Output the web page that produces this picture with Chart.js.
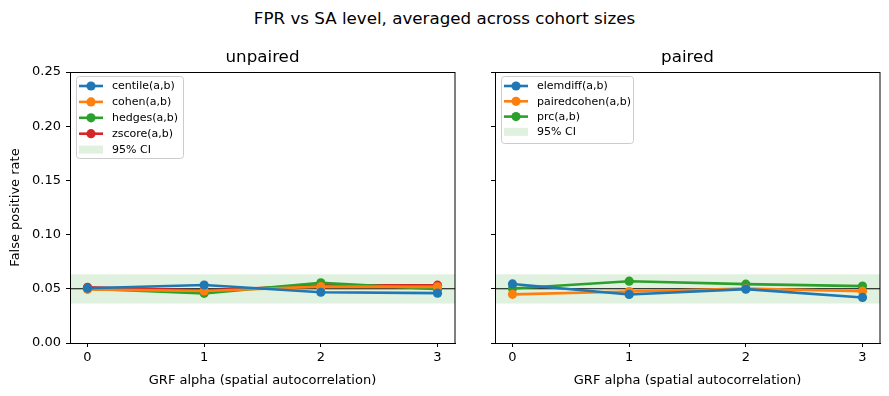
<!DOCTYPE html>
<html>
<head>
<meta charset="utf-8">
<script src="https://cdn.jsdelivr.net/npm/chart.js@4/dist/chart.umd.min.js"></script>
<style>
  html, body { margin: 0; padding: 0; background: #fff; }
  #wrap { position: relative; width: 889px; height: 396px; overflow: hidden; font-family: "DejaVu Sans", sans-serif; }
  #suptitle { position: absolute; left: 0; width: 889px; top: 8px; text-align: center; font-size: 16.7px; color: #000; line-height: 20px; }
  .cv { position: absolute; top: 0; }
</style>
</head>
<body>
<div id="wrap">
  <div id="suptitle">FPR vs SA level, averaged across cohort sizes</div>
  <canvas id="c1" class="cv" style="left:0px" width="460" height="396"></canvas>
  <canvas id="c2" class="cv" style="left:460px" width="429" height="396"></canvas>
</div>
<script>
// ---- data ----
const alphaLevels = [0, 1, 2, 3];
const yTicks = [0.00, 0.05, 0.10, 0.15, 0.20, 0.25];
const nominalFPR = 0.05;
const ciLow = 0.0365;
const ciHigh = 0.0635;

const unpairedNames = ["centile(a,b)", "cohen(a,b)", "hedges(a,b)", "zscore(a,b)"];
const centile = [0.0505, 0.0535, 0.0468, 0.0460];
const cohen   = [0.0495, 0.0480, 0.0520, 0.0518];
const hedges  = [0.0500, 0.0458, 0.0556, 0.0497];
const zscore  = [0.0514, 0.0484, 0.0532, 0.0533];

const pairedNames = ["elemdiff(a,b)", "pairedcohen(a,b)", "prc(a,b)"];
const elemdiff    = [0.0545, 0.0448, 0.0497, 0.0420];
const pairedcohen = [0.0449, 0.0475, 0.0502, 0.0478];
const prc         = [0.0503, 0.0570, 0.0543, 0.0525];

const colors = ["#1f77b4", "#ff7f0e", "#2ca02c", "#d62728"];
const ciLabel = "95% CI";
const xMin = -0.15, xMax = 3.15;

const FONT = "DejaVu Sans";

function seriesDataset(label, values, color) {
  return {
    type: 'line', label: label,
    data: alphaLevels.map((a, i) => ({x: a, y: values[i]})),
    borderColor: color, backgroundColor: color,
    borderWidth: 2.6, pointRadius: 4.6, pointHoverRadius: 4.6,
    pointBorderWidth: 0, fill: false, tension: 0, order: 1
  };
}

function bandDatasets() {
  return [
    { type: 'line', label: '_ciLow', data: [{x: xMin, y: ciLow}, {x: xMax, y: ciLow}],
      borderWidth: 0, pointRadius: 0, borderColor: 'rgba(0,0,0,0)', fill: false, order: 10 },
    { type: 'line', label: '_ciHigh', data: [{x: xMin, y: ciHigh}, {x: xMax, y: ciHigh}],
      borderWidth: 0, pointRadius: 0, borderColor: 'rgba(0,0,0,0)',
      backgroundColor: 'rgba(44,160,44,0.15)', fill: '-1', order: 10 },
    { type: 'line', label: '_nominal', data: [{x: xMin, y: nominalFPR}, {x: xMax, y: nominalFPR}],
      borderWidth: 1.1, pointRadius: 0, borderColor: '#000', fill: false, order: 5 }
  ];
}

// frame + title + custom legend plugin
const framePlugin = {
  id: 'frame',
  afterDatasetsDraw(chart, args, opts) {
    const ctx = chart.ctx, a = chart.chartArea;
    ctx.save();
    ctx.strokeStyle = '#000'; ctx.lineWidth = 1;
    ctx.strokeRect(Math.round(a.left) + 0.5, Math.round(a.top) + 0.5,
                   Math.round(a.right - a.left) - 1 + 0.5, Math.round(a.bottom - a.top));
    // axes title, centred on the plot area
    ctx.fillStyle = '#000';
    ctx.font = '16.7px "' + FONT + '"';
    ctx.textAlign = 'center';
    ctx.textBaseline = 'middle';
    ctx.fillText(opts.title, (a.left + a.right) / 2, a.top - 14);
    ctx.restore();

    // legend
    const items = opts.items;
    const x0 = a.left + 6, y0 = a.top + 4;
    const rowH = opts.rowH;
    const w = opts.width, h = opts.height;
    ctx.save();
    ctx.fillStyle = 'rgba(255,255,255,0.8)';
    ctx.strokeStyle = 'rgba(204,204,204,1)';
    ctx.lineWidth = 1;
    const r = 3;
    ctx.beginPath();
    ctx.moveTo(x0 + r + 0.5, y0 + 0.5);
    ctx.arcTo(x0 + w + 0.5, y0 + 0.5, x0 + w + 0.5, y0 + h + 0.5, r);
    ctx.arcTo(x0 + w + 0.5, y0 + h + 0.5, x0 + 0.5, y0 + h + 0.5, r);
    ctx.arcTo(x0 + 0.5, y0 + h + 0.5, x0 + 0.5, y0 + 0.5, r);
    ctx.arcTo(x0 + 0.5, y0 + 0.5, x0 + w + 0.5, y0 + 0.5, r);
    ctx.closePath();
    ctx.fill(); ctx.stroke();
    ctx.font = '11px "' + FONT + '"';
    ctx.textBaseline = 'middle';
    ctx.textAlign = 'left';
    items.forEach((it, i) => {
      const cy = y0 + 10 + i * rowH;
      const hx0 = x0 + 3, hx1 = x0 + 27;
      if (it.band) {
        ctx.fillStyle = 'rgba(44,160,44,0.15)';
        ctx.fillRect(hx0, cy - 4, hx1 - hx0, 8);
      } else {
        ctx.strokeStyle = it.color; ctx.lineWidth = 2.6;
        ctx.beginPath(); ctx.moveTo(hx0, cy); ctx.lineTo(hx1, cy); ctx.stroke();
        ctx.fillStyle = it.color;
        ctx.beginPath(); ctx.arc((hx0 + hx1) / 2, cy, 4.6, 0, Math.PI * 2); ctx.fill();
      }
      ctx.fillStyle = '#000';
      ctx.fillText(it.label, x0 + 36, cy + 0.5);
    });
    ctx.restore();
  }
};

function makeChart(id, title, names, seriesArr, showY, yAxisWidth, padRight, legendW, legendH, rowH) {
  const datasets = bandDatasets().concat(names.map((n, i) => seriesDataset(n, seriesArr[i], colors[i])));
  const items = names.map((n, i) => ({label: n, color: colors[i]})).concat([{label: ciLabel, band: true}]);
  return new Chart(document.getElementById(id), {
    type: 'line',
    data: { datasets },
    options: {
      responsive: false, animation: false, devicePixelRatio: 1,
      layout: { padding: { left: 0, right: padRight, top: 72, bottom: 0 } },
      plugins: {
        legend: { display: false },
        tooltip: { enabled: false },
        title: { display: false },
        frame: { title, items, rowH: rowH, width: legendW, height: legendH }
      },
      scales: {
        x: {
          type: 'linear', min: xMin, max: xMax,
          afterBuildTicks: s => { s.ticks = alphaLevels.map(v => ({value: v})); },
          afterFit: s => { s.height = 53; },
          grid: { drawOnChartArea: false, drawTicks: true, tickLength: 4, color: '#000', tickColor: '#000', tickWidth: 1 },
          border: { display: true, color: '#000', width: 1 },
          ticks: { color: '#000', padding: 3, font: { family: FONT, size: 13 }, callback: v => String(v), maxRotation: 0 },
          title: { display: true, text: 'GRF alpha (spatial autocorrelation)', color: '#000',
                   font: { family: FONT, size: 13, lineHeight: 1.2 }, padding: { top: 0, bottom: 8 } }
        },
        y: {
          type: 'linear', min: 0, max: 0.25,
          afterBuildTicks: s => { s.ticks = yTicks.map(v => ({value: v})); },
          afterFit: s => { s.width = yAxisWidth; },
          grid: { drawOnChartArea: false, drawTicks: true, tickLength: 4, color: '#000', tickColor: '#000', tickWidth: 1 },
          border: { display: true, color: '#000', width: 1 },
          ticks: { display: showY, color: '#000', padding: 5, font: { family: FONT, size: 13 },
                   callback: v => Number(v).toFixed(2) },
          title: { display: showY, text: 'False positive rate', color: '#000',
                   font: { family: FONT, size: 13, lineHeight: 1.2 }, padding: { top: 8, bottom: 0 } }
        }
      }
    },
    plugins: [framePlugin]
  });
}

makeChart('c1', 'unpaired', unpairedNames, [centile, cohen, hedges, zscore], true, 70, 5, 107, 82, 15.9);
makeChart('c2', 'paired', pairedNames, [elemdiff, pairedcohen, prc], false, 35, 9, 132, 67, 15.3);
</script>
</body>
</html>
